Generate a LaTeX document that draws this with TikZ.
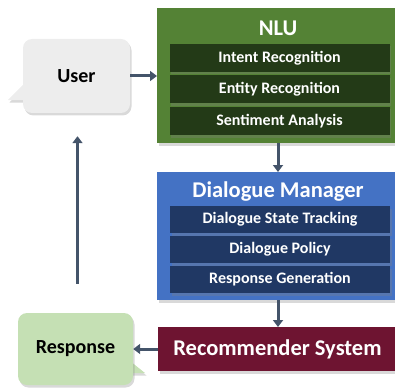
\documentclass[tikz,border=0pt]{standalone}
\usepackage{fontspec}
\setmainfont{Carlito}
\usetikzlibrary{arrows.meta,calc,shadows,backgrounds}
\definecolor{arr}{HTML}{44546A}
\definecolor{nlug}{HTML}{548235}
\definecolor{nlub}{HTML}{233A17}
\definecolor{dmb}{HTML}{4472C4}
\definecolor{dmbar}{HTML}{203864}
\definecolor{recr}{HTML}{6E1431}
\definecolor{userc}{HTML}{EDEDED}
\definecolor{respc}{HTML}{C5E0B4}
\tikzset{shad/.style={drop shadow={shadow xshift=1.5pt,shadow yshift=-2.5pt,opacity=0.3}},
  box/.style={rectangle,anchor=north west,minimum width=245pt,inner sep=0pt,shad},
  bar/.style={rectangle,minimum width=220pt,minimum height=27pt,inner sep=0pt,text=white,
    font=\bfseries\fontsize{16}{17}\selectfont,shad},
  ttl/.style={text=white,font=\bfseries\fontsize{22.5}{24}\selectfont},
  bubble/.style={rectangle,rounded corners=9pt,inner sep=0pt,font=\bfseries\fontsize{20}{22}\selectfont,shad},
  flow/.style={draw=arr,line width=3pt,-{Triangle[width=10pt,length=7pt]}}}
\begin{document}
\begin{tikzpicture}[x=1pt,y=-1pt]
\useasboundingbox (0,0) rectangle (395,390);
% NLU
\node[box,fill=nlug,minimum height=135pt] (nlu) at (157,8) {};
\node[ttl] (nlut) at (278,28) {NLU};
\node[bar,fill=nlub,minimum height=28pt] (ir) at (279.5,58) {Intent Recognition};
\node[bar,fill=nlub,minimum height=28pt] (er) at (279.5,89.5) {Entity Recognition};
\node[bar,fill=nlub,minimum height=28pt] (sa) at (279.5,121) {Sentiment Analysis};
% dialogue manager
\node[box,fill=dmb,minimum height=128pt] (dm) at (157,172) {};
\node[ttl] (dmt) at (278,192) {Dialogue Manager};
\node[bar,fill=dmbar] (dst) at (280,219.5) {Dialogue State Tracking};
\node[bar,fill=dmbar] (dp) at (280,249.5) {Dialogue Policy};
\node[bar,fill=dmbar] (rg) at (280,279.5) {Response Generation};
% recommender
\node[box,fill=recr,minimum height=44pt] (rec) at (158,327) {};
\node[ttl] (rect) at (277.5,349) {Recommender System};
% bubbles
\node[bubble,fill=userc,minimum width=107pt,minimum height=74pt] (user) at (76.5,76) {User};
\node[bubble,fill=respc,minimum width=115pt,minimum height=72pt] (resp) at (75.5,349) {Response};
\begin{scope}[on background layer]
\fill[userc,shad] ($(user.west)+(2,7)$) -- (8,100) -- ($(user.south west)+(2,-13)$) -- cycle;
\fill[respc,shad] ($(resp.east)+(-2,13)$) -- (145,373) -- ($(resp.south east)+(-2,-12)$) -- cycle;
\end{scope}
% arrows
\draw[flow] (user.east) -- (nlu.west |- user.east);
\draw[flow] (nlu.south -| nlut) -- (dm.north -| nlut);
\draw[flow] (dm.south -| nlut) -- (rec.north -| nlut);
\draw[flow] (rec.west |- resp.east) -- (resp.east);
\draw[flow] ([xshift=2pt,yshift=29pt]resp.north) -- ([xshift=1pt,yshift=-23pt]user.south);
\end{tikzpicture}
\end{document}
